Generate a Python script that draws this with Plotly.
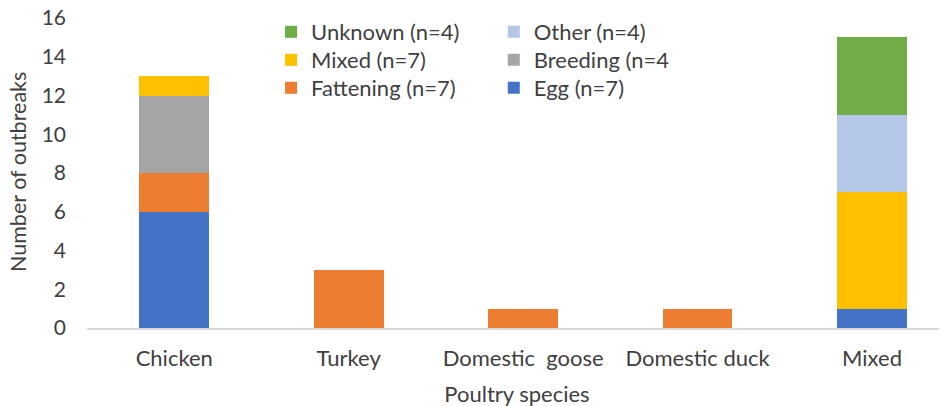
import plotly.graph_objects as go

species = ["Chicken", "Turkey", "Domestic  goose", "Domestic duck", "Mixed"]

egg = [6, 0, 0, 0, 1]
fattening = [2, 3, 1, 1, 0]
breeding = [4, 0, 0, 0, 0]
mixed = [1, 0, 0, 0, 6]
other = [0, 0, 0, 0, 4]
unknown = [0, 0, 0, 0, 4]

y_ticks = [0, 2, 4, 6, 8, 10, 12, 14, 16]

# name, values, colour, legend slot (column, row)
series = [
    ("Egg (n=7)", egg, "#4472C4", (1, 2)),
    ("Fattening (n=7)", fattening, "#ED7D31", (0, 2)),
    ("Breeding (n=4", breeding, "#A5A5A5", (1, 1)),
    ("Mixed (n=7)", mixed, "#FFC000", (0, 1)),
    ("Other (n=4)", other, "#B4C7E7", (1, 0)),
    ("Unknown (n=4)", unknown, "#70AD47", (0, 0)),
]

FONT = "Lato, 'Open Sans', sans-serif"
GREY = "#404040"

col_x = [0.214, 0.473]
row_y = [0.9906, 0.9031, 0.8156]

fig = go.Figure()
legends = {}
for i, (name, vals, color, (col, row)) in enumerate(series):
    key = "legend" if i == 0 else f"legend{i + 1}"
    fig.add_trace(
        go.Bar(
            x=species,
            y=vals,
            name=name,
            marker_color=color,
            marker_line_width=0,
            width=0.4,
            legend=key,
        )
    )
    legends[key] = dict(
        x=col_x[col],
        y=row_y[row],
        xanchor="left",
        yanchor="top",
        font=dict(family=FONT, size=22, color=GREY),
        bgcolor="rgba(0,0,0,0)",
        itemwidth=30,
    )

# page body adds an 8px offset, so margins are shifted by that amount;
# plot area runs a little above the 16 tick so the legends sit inside it
fig.update_layout(
    barmode="stack",
    showlegend=True,
    width=947,
    height=406,
    margin=dict(l=79, r=8, t=0, b=86),
    plot_bgcolor="white",
    paper_bgcolor="white",
    font=dict(family=FONT, size=21, color=GREY),
    xaxis=dict(
        title=dict(text="Poultry species", font=dict(size=22, color=GREY), standoff=16),
        range=[-0.5, 4.43],
        showline=True,
        linecolor="#D9D9D9",
        linewidth=1.5,
        ticks="",
        showgrid=False,
        automargin=False,
        ticklabelstandoff=10,
        tickfont=dict(size=22, color=GREY),
    ),
    yaxis=dict(
        range=[0, 16.516],
        tickvals=y_ticks,
        showgrid=False,
        zeroline=False,
        showline=False,
        ticks="",
        automargin=False,
        ticklabelstandoff=20,
        ticklabeloverflow="allow",
        tickfont=dict(size=21, color=GREY),
    ),
    **legends,
)

# y title as an annotation so it can sit centred on the 0-16 tick span
fig.add_annotation(
    text="Number of outbreaks",
    xref="paper",
    yref="paper",
    x=-0.0802,
    y=0.4875,
    xanchor="center",
    yanchor="middle",
    textangle=-90,
    showarrow=False,
    font=dict(family=FONT, size=21.5, color=GREY),
)

fig.write_html("out.html")
